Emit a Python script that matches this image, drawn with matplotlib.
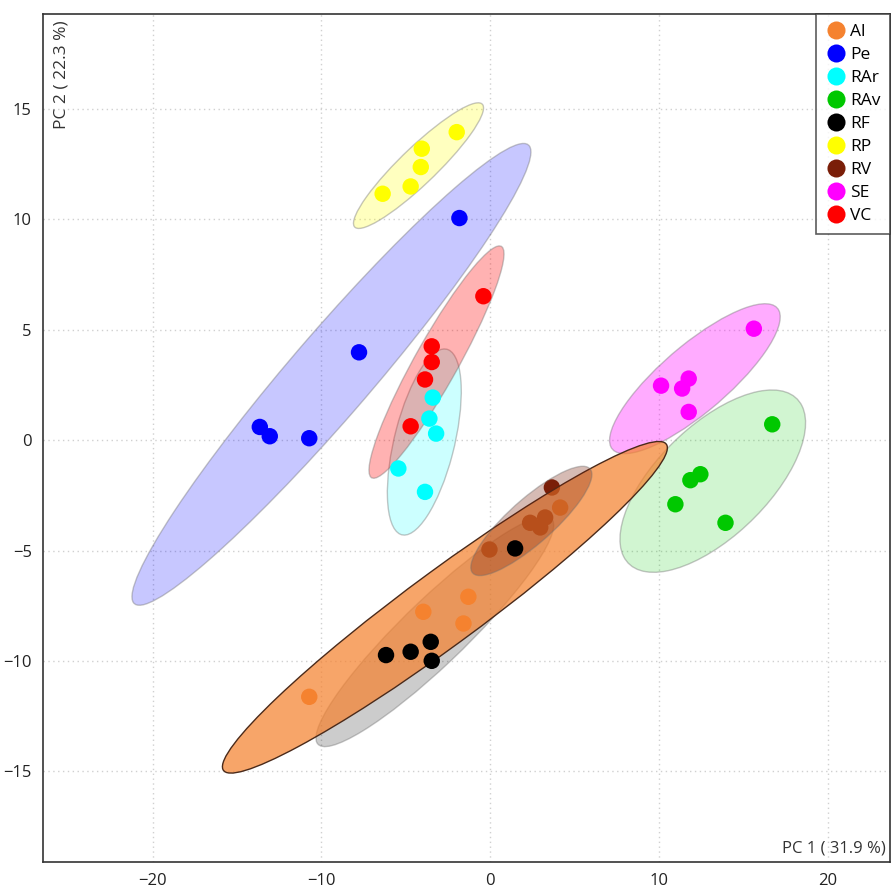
import numpy as np
import matplotlib
matplotlib.use("Agg")
import matplotlib.pyplot as plt
from matplotlib.patches import Ellipse
from matplotlib.lines import Line2D

plt.rcParams['font.family'] = ['Open Sans', 'DejaVu Sans']

groups = ["Al", "Pe", "RAr", "RAv", "RF", "RP", "RV", "SE", "VC"]
colors = ["#f5822f", "#0000ff", "#00ffff", "#00c800", "#000000",
          "#ffff00", "#7a1e08", "#ff00ff", "#ff0000"]

al_x = [-10.72, -3.96, -1.29, -1.58, 4.15]
al_y = [-11.62, -7.77, -7.09, -8.30, -3.05]
pe_x = [-13.65, -13.06, -10.72, -7.77, -1.82]
pe_y = [0.60, 0.18, 0.09, 3.98, 10.06]
rar_x = [-3.40, -3.60, -3.20, -5.44, -3.86]
rar_y = [1.93, 0.98, 0.30, -1.28, -2.34]
rav_x = [16.72, 12.46, 11.87, 10.98, 13.95]
rav_y = [0.72, -1.54, -1.81, -2.90, -3.74]
rf_x = [-6.17, -4.71, -3.52, -3.46, 1.48]
rf_y = [-9.73, -9.58, -9.13, -9.99, -4.90]
rp_x = [-1.98, -4.05, -4.11, -4.71, -6.37]
rp_y = [13.95, 13.20, 12.37, 11.49, 11.16]
rv_x = [3.66, 2.37, 3.26, 2.97, -0.04]
rv_y = [-2.14, -3.74, -3.50, -3.95, -4.95]
se_x = [15.63, 10.13, 11.77, 11.38, 11.77]
se_y = [5.05, 2.47, 2.79, 2.34, 1.28]
vc_x = [-3.46, -3.46, -3.86, -4.71, -0.40]
vc_y = [4.25, 3.54, 2.75, 0.63, 6.52]

xs = [al_x, pe_x, rar_x, rav_x, rf_x, rp_x, rv_x, se_x, vc_x]
ys = [al_y, pe_y, rar_y, rav_y, rf_y, rp_y, rv_y, se_y, vc_y]

fill_alpha = {"Al": 0.72, "Pe": 0.22, "RAr": 0.2, "RAv": 0.18, "RF": 0.2,
              "RP": 0.25, "RV": 0.3, "SE": 0.33, "VC": 0.3}
edge_cols = {"Al": "#4a2a1a"}

fig = plt.figure(figsize=(8.92, 8.90), dpi=100)
ax = fig.add_axes([43/892, 1-862/890, (890-43)/892, (862-14)/890])

def conf_ellipse(x, y, level=0.95):
    x = np.asarray(x); y = np.asarray(y)
    cov = np.cov(x, y)
    vals, vecs = np.linalg.eigh(cov)
    order = vals.argsort()[::-1]
    vals, vecs = vals[order], vecs[:, order]
    t = np.sqrt(-2 * np.log(1 - level))
    w, h = 2 * t * np.sqrt(vals)
    ang = np.degrees(np.arctan2(vecs[1, 0], vecs[0, 0]))
    return (x.mean(), y.mean()), w, h, ang

zord = {"Pe": 1, "RP": 1, "VC": 1.2, "RAr": 1.1, "SE": 1, "RAv": 1,
        "RF": 1, "Al": 2.5, "RV": 2.6}

for g, c, x, y in zip(groups, colors, xs, ys):
    cen, w, h, ang = conf_ellipse(x, y)
    e = Ellipse(cen, w, h, angle=ang, zorder=zord[g])
    e.set_facecolor(matplotlib.colors.to_rgba(c, fill_alpha[g]))
    ec = edge_cols.get(g, matplotlib.colors.to_rgba("#707070", 0.4))
    e.set_edgecolor(ec)
    e.set_linewidth(1.0)
    ax.add_patch(e)

for g, c, x, y in zip(groups, colors, xs, ys):
    z = 2 if g in ("Al", "RV") else 4
    ax.scatter(x, y, s=140, color=c, edgecolors='none', zorder=z)

ax.set_xlim(-26.5, 23.7)
ax.set_ylim(-19.1, 19.3)
ax.set_xticks([-20, -10, 0, 10, 20])
ax.set_yticks([-15, -10, -5, 0, 5, 10, 15])
ax.tick_params(length=0, labelsize=12, pad=8, colors="#222222")
ax.grid(True, color="#d0d0d0", linestyle=(0, (1, 2.5)), linewidth=1.0, zorder=0)
ax.set_axisbelow(True)
for sp in ax.spines.values():
    sp.set_color("#333333")
    sp.set_linewidth(1.2)

ax.text(0.995, 0.0165, "PC 1 ( 31.9 %)", transform=ax.transAxes,
        ha='right', va='center', fontsize=12, color="#333333")
ax.text(0.022, 0.993, "PC 2 ( 22.3 %)", transform=ax.transAxes, rotation=90,
        ha='center', va='top', fontsize=12.5, color="#333333")

handles = [Line2D([], [], marker='o', linestyle='none', markersize=13,
                  markerfacecolor=c, markeredgecolor='none', label=g)
           for g, c in zip(groups, colors)]
leg = ax.legend(handles=handles, loc='upper right', borderaxespad=0.0,
                fontsize=12.5, frameon=True, fancybox=False,
                handletextpad=0.2, labelspacing=0.4, borderpad=0.55,
                handlelength=1.2)
leg.get_frame().set_edgecolor("#333333")
leg.get_frame().set_linewidth(1.2)
leg.set_zorder(10)

fig.savefig("out.png", dpi=100)
